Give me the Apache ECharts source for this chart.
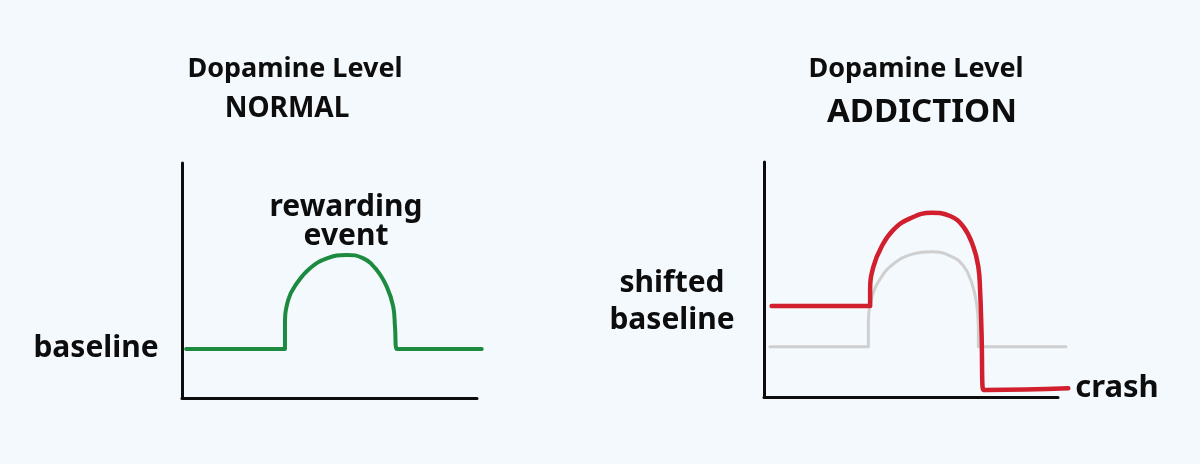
<!DOCTYPE html>
<html>
<head>
<meta charset="utf-8">
<script src="https://cdn.jsdelivr.net/npm/echarts@6/dist/echarts.min.js"></script>
<style>
html,body{margin:0;padding:0;background:#f3f9fd;}
#c{width:1200px;height:464px;}
</style>
</head>
<body>
<div id="c"></div>
<script>
// Panel titles and annotation texts
const panelTitles = ["Dopamine Level", "Dopamine Level"];
const panelSubtitles = ["NORMAL", "ADDICTION"];
const annotations = ["baseline", "rewarding\nevent", "shifted\nbaseline", "crash"];

// Normal dopamine curve (time %, level %)
const normalX = [1.4, 34.0, 34.9, 34.9, 36.0, 38.9, 43.4, 49.1, 55.8, 61.5, 66.0, 69.4, 71.6, 72.2, 72.8, 73.8, 101.6];
const normalY = [20.9, 20.9, 20.9, 30.3, 41.7, 48.8, 55.2, 59.4, 60.9, 59.4, 54.5, 47.4, 38.9, 30.3, 20.9, 20.9, 20.9];

// Addiction: reference (grey) curve = normal response
const refX = [2.0, 34.6, 35.5, 35.5, 36.6, 39.5, 44.0, 50.8, 57.0, 63.3, 67.8, 70.6, 72.3, 72.9, 72.9, 73.9, 102.7];
const refY = [21.4, 21.4, 21.4, 29.9, 41.7, 50.2, 56.6, 60.9, 61.8, 60.1, 55.9, 48.8, 39.9, 29.9, 21.4, 21.4, 21.4];

// Addiction: shifted baseline then crash (red)
const addX = [2.6, 35.2, 36.1, 36.1, 37.2, 40.0, 44.0, 49.7, 57.0, 63.3, 67.8, 71.2, 72.9, 73.5, 74.0, 74.6, 75.6, 103.5];
const addY = [38.7, 38.7, 38.7, 45.5, 55.4, 64.0, 71.1, 76.0, 78.4, 77.0, 72.5, 64.0, 55.4, 45.5, 27.1, 3.0, 3.0, 3.7];

const zip = (xs, ys) => xs.map((x, i) => [x, ys[i]]);

const chart = echarts.init(document.getElementById('c'));

const AXMAX = 100, DATAMAX = 105;

const visibleAxis = (gi) => ({
  gridIndex: gi, type: 'value', min: 0, max: AXMAX,
  axisLine: {show: true, onZero: false, lineStyle: {color: '#0d0d0d', width: 3, cap: 'round'}},
  axisTick: {show: false}, axisLabel: {show: false}, splitLine: {show: false}
});
const hiddenAxis = (gi, max) => ({
  gridIndex: gi, type: 'value', min: 0, max: max, show: false,
  axisLine: {show: false}, axisTick: {show: false}, axisLabel: {show: false}, splitLine: {show: false}
});

const lineSeries = (gi, data, color, width, z) => ({
  type: 'line', xAxisIndex: gi, yAxisIndex: gi, data: data,
  showSymbol: false, symbol: 'none', smooth: 0.45, clip: false, z: z,
  lineStyle: {color: color, width: width, cap: 'round', join: 'round'},
  emphasis: {disabled: true}, silent: true
});

const txt = (x, y, text, size, weight, lh) => ({
  type: 'text', x: x, y: y,
  style: {text: text, fill: '#0d0d0d', font: weight + ' ' + size + 'px "Noto Sans", sans-serif',
          align: 'center', verticalAlign: 'middle', lineHeight: lh || size}
});

const W0 = 295, W1 = 294;
chart.setOption({
  backgroundColor: '#f3f9fd',
  animation: false,
  grid: [
    {left: 182, top: 163, width: W0, height: 235},
    {left: 764, top: 162, width: W1, height: 235},
    {left: 182, top: 163, width: W0 * DATAMAX / AXMAX, height: 235},
    {left: 764, top: 162, width: W1 * DATAMAX / AXMAX, height: 235}
  ],
  xAxis: [visibleAxis(0), visibleAxis(1), hiddenAxis(2, DATAMAX), hiddenAxis(3, DATAMAX)],
  yAxis: [visibleAxis(0), visibleAxis(1), hiddenAxis(2, AXMAX), hiddenAxis(3, AXMAX)],
  series: [
    lineSeries(2, zip(normalX, normalY), '#1c8a3f', 4, 3),
    lineSeries(3, zip(refX, refY), '#cfcfcf', 3, 2),
    lineSeries(3, zip(addX, addY), '#d11f2e', 4.5, 3)
  ],
  graphic: [
    txt(295, 69, panelTitles[0], 27, 'bold'),
    txt(287, 109, panelSubtitles[0], 28, 'bold'),
    txt(916, 69, panelTitles[1], 27, 'bold'),
    txt(922, 113, panelSubtitles[1], 33, 'bold'),
    txt(96, 348, annotations[0], 30, 'bold'),
    txt(346, 222, annotations[1], 30, 'bold', 29),
    txt(672, 302, annotations[2], 30, 'bold', 37),
    txt(1117, 388, annotations[3], 31, 'bold')
  ]
});
</script>
</body>
</html>
